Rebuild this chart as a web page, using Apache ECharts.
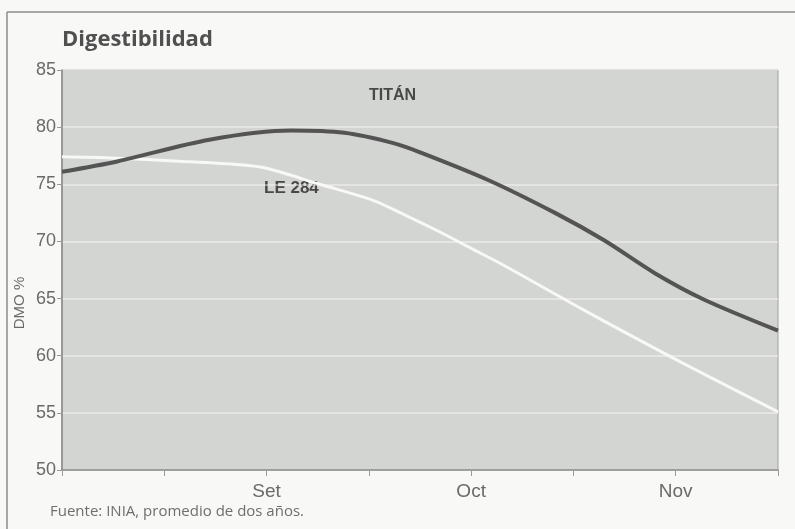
<!DOCTYPE html>
<html>
<head>
<meta charset="utf-8">
<script src="https://cdn.jsdelivr.net/npm/echarts@6/dist/echarts.min.js"></script>
<style>
  html, body { margin: 0; padding: 0; background: #f7f7f5; }
  #chart { width: 795px; height: 529px; }
</style>
</head>
<body>
<div id="chart"></div>
<script>
// Months on the x axis: 0 = start of August, 1 = Set, 2 = Oct, 3 = Nov
const monthLabels = { 1: 'Set', 2: 'Oct', 3: 'Nov' };
const yTicks = [50, 55, 60, 65, 70, 75, 80, 85];

// TITÁN digestibility (DMO %)
const titanX = [0, 0.27, 0.72, 1.12, 1.38, 1.62, 1.75, 2.08, 2.41, 2.65, 2.90, 3.14, 3.50];
const titanY = [76.1, 77.0, 78.9, 79.7, 79.5, 78.6, 77.8, 75.4, 72.5, 70.1, 67.2, 64.9, 62.2];

// LE 284 digestibility (DMO %)
const le284X = [0, 0.24, 0.59, 0.87, 1.00, 1.26, 1.52, 1.69, 1.85, 2.01, 2.15, 2.54, 3.03, 3.50];
const le284Y = [77.4, 77.3, 77.0, 76.7, 76.4, 75.0, 73.6, 72.2, 70.8, 69.3, 68.0, 64.1, 59.4, 55.1];

const pair = (xs, ys) => xs.map((x, i) => [x, ys[i]]);

const axisFont = '"Liberation Sans", Arial, sans-serif';

const chart = echarts.init(document.getElementById('chart'));
chart.setOption({
  animation: false,
  backgroundColor: '#f8f8f6',
  grid: {
    left: 62, right: 17, top: 70, bottom: 59,
    show: true,
    backgroundColor: '#d3d5d2',
    borderColor: '#a0a0a0',
    borderWidth: 1
  },
  xAxis: {
    type: 'value',
    min: 0, max: 3.5, interval: 0.5,
    axisLine: { show: true, lineStyle: { color: '#8a8a8a', width: 1.5 } },
    axisTick: { show: true, length: 6, lineStyle: { color: '#9a9a9a' } },
    splitLine: { show: false },
    axisLabel: {
      color: '#6a6a6a',
      fontFamily: axisFont,
      fontSize: 19,
      margin: 12,
      formatter: v => monthLabels[v] || ''
    }
  },
  yAxis: {
    type: 'value',
    min: yTicks[0], max: yTicks[yTicks.length - 1], interval: 5,
    axisLine: { show: true, lineStyle: { color: '#8a8a8a', width: 1.5 } },
    axisTick: { show: true, length: 5, lineStyle: { color: '#9a9a9a' } },
    splitLine: { show: true, lineStyle: { color: 'rgba(255,255,255,0.55)', width: 1.5 } },
    axisLabel: {
      color: '#6a6a6a',
      fontFamily: axisFont,
      fontSize: 18,
      margin: 6
    }
  },
  series: [
    {
      name: 'LE 284',
      type: 'line',
      smooth: 0.3,
      symbol: 'none',
      data: pair(le284X, le284Y),
      lineStyle: { color: '#f8f8f6', width: 3 },
      z: 2
    },
    {
      name: 'TITÁN',
      type: 'line',
      smooth: 0.3,
      symbol: 'none',
      data: pair(titanX, titanY),
      lineStyle: { color: '#545454', width: 4 },
      z: 3
    }
  ],
  graphic: [
    // outer frame
    { type: 'line', shape: { x1: 7, y1: 12, x2: 795, y2: 12 }, style: { stroke: '#8c8c8c', lineWidth: 1.5 } },
    { type: 'line', shape: { x1: 7, y1: 12, x2: 7, y2: 529 }, style: { stroke: '#8c8c8c', lineWidth: 1.5 } },
    {
      type: 'text', left: 62, top: 29,
      style: { text: 'Digestibilidad', fill: '#505050', font: 'bold 22px "Open Sans", sans-serif' }
    },
    // y axis title
    {
      type: 'text', x: 12, y: 303, rotation: Math.PI / 2,
      style: {
        text: 'DMO %', fill: '#6a6a6a', font: '15px ' + axisFont,
        align: 'center', verticalAlign: 'top'
      }
    },
    {
      type: 'text', left: 369, top: 88,
      style: { text: 'TITÁN', fill: '#484848', font: 'bold 16px ' + axisFont }
    },
    {
      type: 'text', left: 264, top: 180,
      style: { text: 'LE 284', fill: '#484848', font: 'bold 17px ' + axisFont }
    },
    {
      type: 'text', left: 50, top: 504,
      style: { text: 'Fuente: INIA, promedio de dos años.', fill: '#6e6e6e', font: '15px "Open Sans", sans-serif' }
    }
  ]
});
</script>
</body>
</html>
